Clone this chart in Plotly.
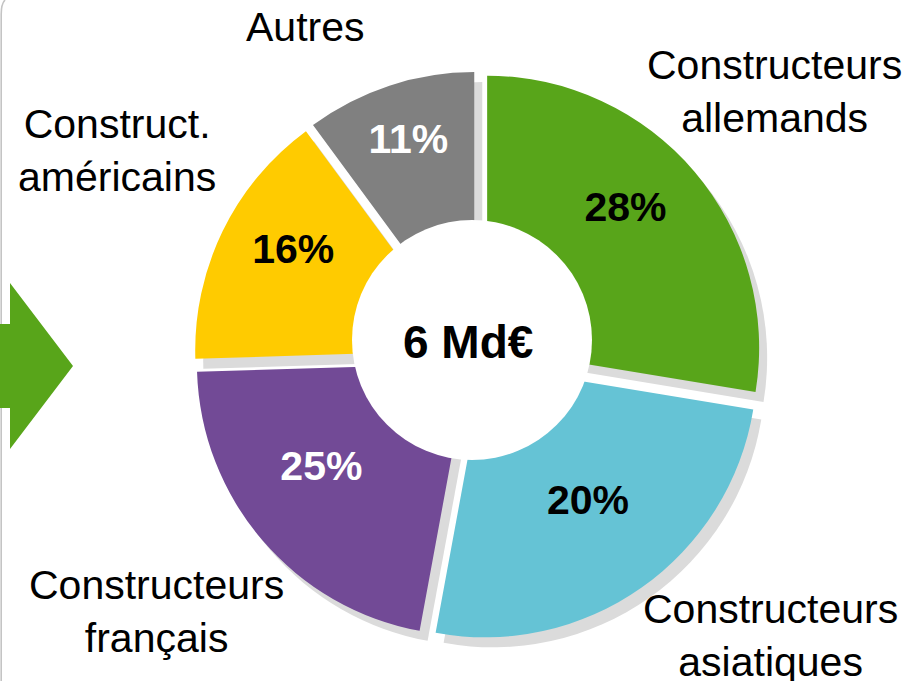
import plotly.graph_objects as go

W, H = 918, 681

# ---- data ----
segments = ["Constructeurs allemands", "Constructeurs asiatiques",
            "Constructeurs français", "Construct. américains", "Autres"]
slice_values = [27.6, 25.3, 21.6, 15.4, 10.1]          # angular shares
pct_labels = ["28%", "20%", "25%", "16%", "11%"]        # printed labels
outer_labels = ["Constructeurs<br>allemands", "Constructeurs<br>asiatiques",
                "Constructeurs<br>français", "Construct.<br>américains", "Autres"]
total_label = "6 Md€"

# ---- styles ----
slice_colors = ["#58A51A", "#65C3D5", "#724A96", "#FFCB00", "#808080"]
pct_text_colors = ["#000000", "#000000", "#FFFFFF", "#000000", "#FFFFFF"]
shadow_color = "#DBDBDB"
FONT = "Liberation Sans, Arial, sans-serif"

R = 272.0
PULL_PX = 12.0
pull = PULL_PX / R


def domain(cx, cy, half):
    return dict(x=[(cx - half) / W, (cx + half) / W],
                y=[1 - (cy + half) / H, 1 - (cy - half) / H])


def px(x):
    return x / W


def py(y):
    return 1 - y / H


fig = go.Figure()

# shadow pie
fig.add_trace(go.Pie(
    labels=segments, values=slice_values, sort=False, direction="clockwise",
    rotation=0, pull=pull, domain=domain(486, 365.5, R * (1 + pull)),
    marker=dict(colors=[shadow_color] * len(segments), line=dict(width=0)),
    textinfo="none", hoverinfo="skip", showlegend=False,
))

# main pie (fills)
fig.add_trace(go.Pie(
    labels=segments, values=slice_values, sort=False, direction="clockwise",
    rotation=0, pull=pull, hole=0.3, domain=domain(478, 355.5, R * (1 + pull)),
    marker=dict(colors=slice_colors, line=dict(width=0)),
    textinfo="none", hoverinfo="skip", showlegend=False,
))

# same pie, transparent, carrying the percentage labels (centred on the white disc)
fig.add_trace(go.Pie(
    labels=segments, values=slice_values, sort=False, direction="clockwise",
    rotation=0, hole=0.47, domain=domain(473, 336, R),
    marker=dict(colors=["rgba(0,0,0,0)"] * len(segments), line=dict(width=0)),
    text=pct_labels, texttemplate="%{text}", textposition="inside",
    insidetextorientation="horizontal",
    textfont=dict(family=FONT, size=41, color=pct_text_colors, weight="bold"),
    hoverinfo="skip", showlegend=False,
))

shapes = []
# white centre disc
shapes.append(dict(type="circle", xref="paper", yref="paper",
                   x0=px(472 - 120), x1=px(472 + 120), y0=py(340 + 120), y1=py(340 - 120),
                   fillcolor="white", line=dict(width=0), layer="above"))
# left frame line
shapes.append(dict(type="path", xref="paper", yref="paper",
                   path=f"M {px(1.2)},{py(681)} L {px(1.2)},{py(14)} Q {px(1.2)},{py(4)} {px(5)},{py(0)}",
                   line=dict(color="#C4C4C4", width=1.6), layer="above"))
# green arrow
arrow_pts = [(0, 324), (10, 324), (10, 283), (73, 366), (10, 449), (10, 408), (0, 408)]
path = "M " + " L ".join(f"{px(x)},{py(y)}" for x, y in arrow_pts) + " Z"
shapes.append(dict(type="path", xref="paper", yref="paper", path=path,
                   fillcolor="#58A51A", line=dict(width=0), layer="above"))

label_pos = [(774, 91), (770, 635), (156, 611), (117, 151), (305, 27)]
annotations = []
for txt, (x, y) in zip(outer_labels, label_pos):
    annotations.append(dict(text=txt, x=px(x), y=py(y), xref="paper", yref="paper",
                            xanchor="center", yanchor="middle", showarrow=False,
                            align="center", font=dict(family=FONT, size=41, color="black")))
annotations.append(dict(text=f"<b>{total_label}</b>", x=px(468), y=py(342), xref="paper", yref="paper",
                        xanchor="center", yanchor="middle", showarrow=False,
                        font=dict(family=FONT, size=46, color="black")))

fig.update_layout(
    width=W, height=H, margin=dict(l=0, r=0, t=0, b=0),
    paper_bgcolor="white", plot_bgcolor="white",
    shapes=shapes, annotations=annotations, showlegend=False,
)

fig.write_html("out.html", config={"displayModeBar": False},
               post_script="document.body.style.margin='0';document.body.style.overflow='hidden';")
